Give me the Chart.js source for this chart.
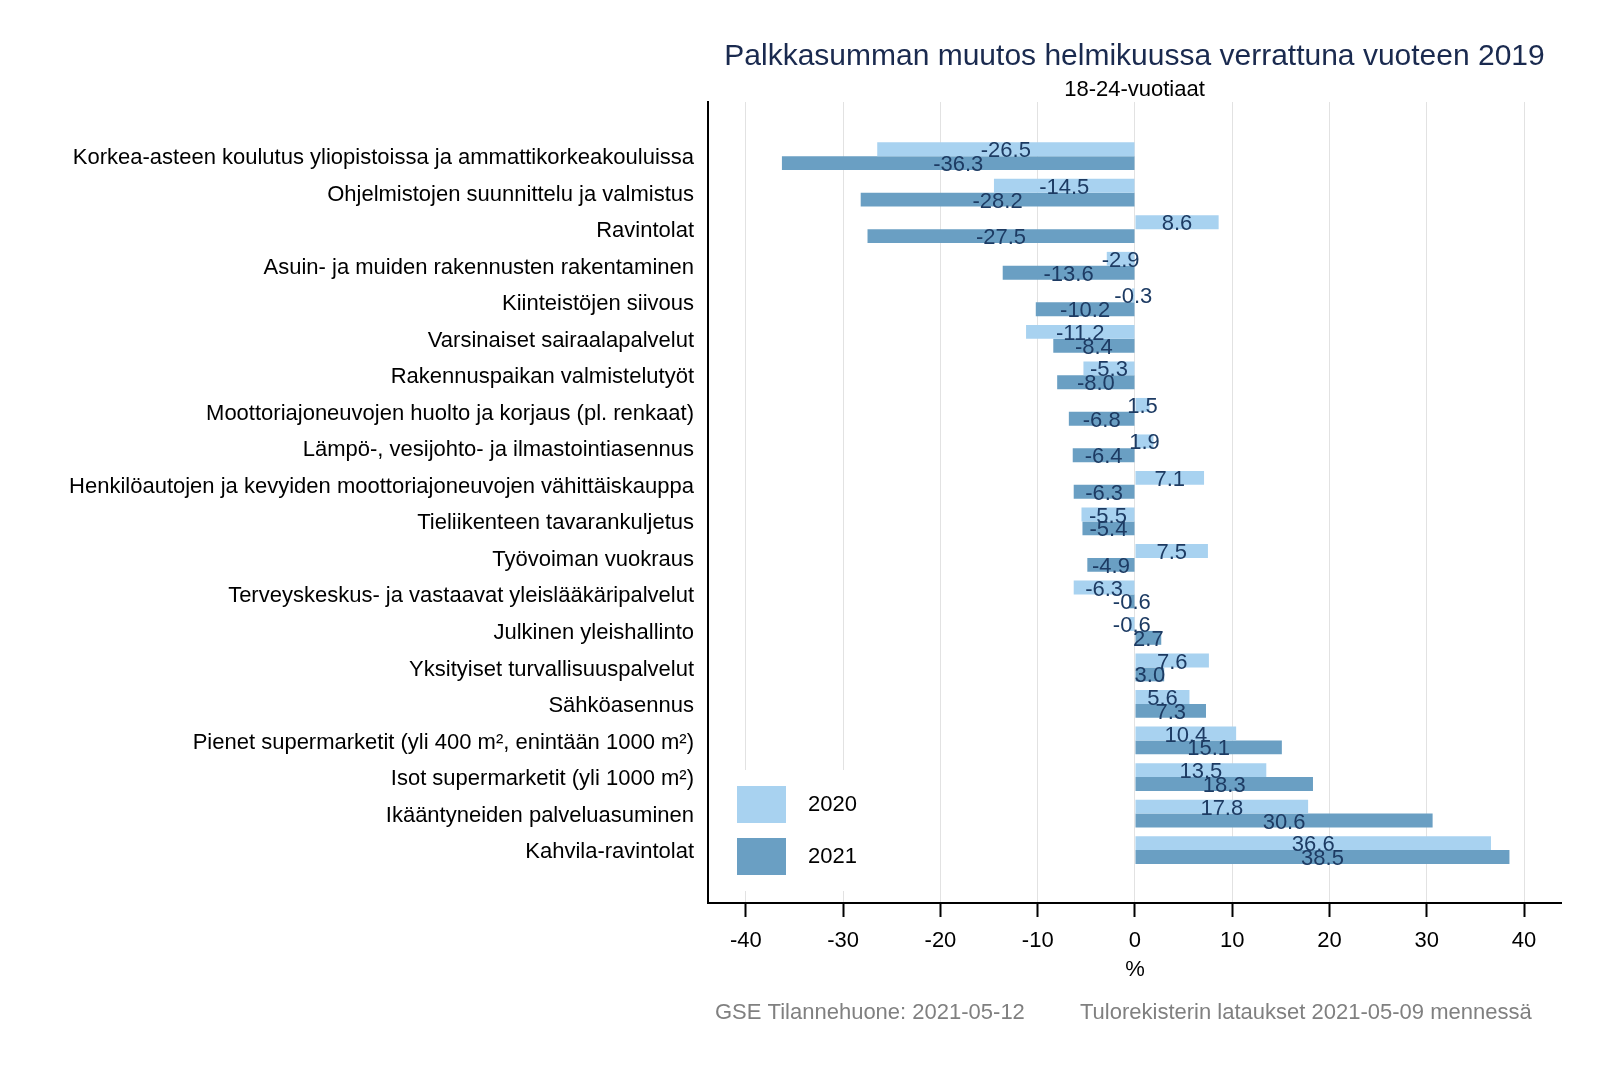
<!DOCTYPE html>
<html lang="fi">
<head>
    <meta charset="UTF-8">
    <title>Palkkasumman muutos</title>
    <script src="https://cdn.jsdelivr.net/npm/chart.js"></script>
    <style>
        body { margin: 0; background: #fff; }
    </style>
</head>
<body>
    <canvas id="wageChart" width="1600" height="1067"></canvas>
    <script>
        // chart data
        const categories = [
            'Korkea-asteen koulutus yliopistoissa ja ammattikorkeakouluissa',
            'Ohjelmistojen suunnittelu ja valmistus',
            'Ravintolat',
            'Asuin- ja muiden rakennusten rakentaminen',
            'Kiinteistöjen siivous',
            'Varsinaiset sairaalapalvelut',
            'Rakennuspaikan valmistelutyöt',
            'Moottoriajoneuvojen huolto ja korjaus (pl. renkaat)',
            'Lämpö-, vesijohto- ja ilmastointiasennus',
            'Henkilöautojen ja kevyiden moottoriajoneuvojen vähittäiskauppa',
            'Tieliikenteen tavarankuljetus',
            'Työvoiman vuokraus',
            'Terveyskeskus- ja vastaavat yleislääkäripalvelut',
            'Julkinen yleishallinto',
            'Yksityiset turvallisuuspalvelut',
            'Sähköasennus',
            'Pienet supermarketit (yli 400 m², enintään 1000 m²)',
            'Isot supermarketit (yli 1000 m²)',
            'Ikääntyneiden palveluasuminen',
            'Kahvila-ravintolat'
        ];
        const values2020 = [-26.5, -14.5, 8.6, -2.9, -0.3, -11.2, -5.3, 1.5, 1.9, 7.1, -5.5, 7.5, -6.3, -0.6, 7.6, 5.6, 10.4, 13.5, 17.8, 36.6];
        const values2021 = [-36.3, -28.2, -27.5, -13.6, -10.2, -8.4, -8.0, -6.8, -6.4, -6.3, -5.4, -4.9, -0.6, 2.7, 3.0, 7.3, 15.1, 18.3, 30.6, 38.5];
        const seriesLabels = ['2020', '2021'];
        const xTicks = [-40, -30, -20, -10, 0, 10, 20, 30, 40];

        const titleText = 'Palkkasumman muutos helmikuussa verrattuna vuoteen 2019';
        const subtitleText = '18-24-vuotiaat';
        const axisLabel = '%';
        const footLeft = 'GSE Tilannehuone: 2021-05-12';
        const footRight = 'Tulorekisterin lataukset 2021-05-09 mennessä';

        const FONT = '"Liberation Sans", Arial, sans-serif';
        const colors = ['#a8d2f0', '#6a9fc3'];

        // value labels in the middle of every bar
        const barLabels = {
            id: 'barLabels',
            afterDatasetsDraw(chart) {
                const ctx = chart.ctx;
                ctx.save();
                ctx.font = '22px ' + FONT;
                ctx.fillStyle = '#1d3b63';
                ctx.textAlign = 'center';
                ctx.textBaseline = 'middle';
                chart.data.datasets.forEach((ds, i) => {
                    chart.getDatasetMeta(i).data.forEach((bar, j) => {
                        const v = ds.data[j].x;
                        ctx.fillText(v.toFixed(1), (bar.x + bar.base) / 2, bar.y + 2);
                    });
                });
                ctx.restore();
            }
        };

        // legend inside the plot + titles and footer
        const extras = {
            id: 'extras',
            afterDatasetsDraw(chart) {
                const ctx = chart.ctx;
                const a = chart.chartArea;
                ctx.save();
                ctx.fillStyle = '#fff';
                ctx.fillRect(a.left + 3, a.bottom - 133, 188, 121);
                ctx.font = '22px ' + FONT;
                ctx.textBaseline = 'middle';
                ctx.textAlign = 'left';
                chart.data.datasets.forEach((ds, i) => {
                    const top = a.bottom - 117 + i * 52;
                    ctx.fillStyle = ds.backgroundColor;
                    ctx.fillRect(a.left + 29, top, 49, 37);
                    ctx.fillStyle = '#000';
                    ctx.fillText(ds.label, a.left + 100, top + 19);
                });
                ctx.restore();
            },
            afterDraw(chart) {
                const ctx = chart.ctx;
                const a = chart.chartArea;
                const cx = (a.left + a.right) / 2;
                ctx.save();
                ctx.textBaseline = 'middle';
                ctx.textAlign = 'center';
                ctx.fillStyle = '#1a2a4f';
                ctx.font = '30px ' + FONT;
                ctx.fillText(titleText, cx, 57);
                ctx.fillStyle = '#000';
                ctx.font = '22px ' + FONT;
                ctx.fillText(subtitleText, cx, 90);
                ctx.fillText(axisLabel, chart.scales.x.getPixelForValue(0), 970);
                ctx.fillStyle = '#808080';
                ctx.textAlign = 'left';
                ctx.fillText(footLeft, 715, 1013);
                ctx.fillText(footRight, 1080, 1013);
                ctx.restore();
            }
        };

        const ctx = document.getElementById('wageChart').getContext('2d');
        const wageChart = new Chart(ctx, {
            type: 'bar',
            data: {
                datasets: [{
                    label: seriesLabels[0],
                    data: values2020.map((v, i) => ({ x: v, y: i })),
                    backgroundColor: colors[0],
                    categoryPercentage: 0.76,
                    barPercentage: 1.0
                }, {
                    label: seriesLabels[1],
                    data: values2021.map((v, i) => ({ x: v, y: i })),
                    backgroundColor: colors[1],
                    categoryPercentage: 0.76,
                    barPercentage: 1.0
                }]
            },
            options: {
                indexAxis: 'y',
                responsive: false,
                animation: false,
                layout: { padding: { top: 102, right: 39, left: 0, bottom: 0 } },
                plugins: {
                    legend: { display: false },
                    tooltip: { enabled: false }
                },
                scales: {
                    y: {
                        type: 'linear',
                        reverse: true,
                        offset: false,
                        min: -1.484,
                        max: 20.45,
                        afterBuildTicks(scale) {
                            scale.ticks = categories.map((c, i) => ({ value: i }));
                        },
                        afterFit(scale) { scale.width = 708; },
                        grid: { display: false, drawTicks: false },
                        border: { display: true, color: '#000', width: 2 },
                        ticks: {
                            padding: 14,
                            labelOffset: 2,
                            color: '#000',
                            font: { family: FONT, size: 22 },
                            callback: (v) => categories[v]
                        }
                    },
                    x: {
                        type: 'linear',
                        min: -43.9,
                        max: 43.8,
                        afterBuildTicks(scale) {
                            scale.ticks = xTicks.map(v => ({ value: v }));
                        },
                        afterFit(scale) { scale.height = 164; },
                        grid: {
                            color: '#e2e2e2',
                            lineWidth: 1,
                            tickColor: '#000',
                            tickWidth: 2,
                            tickLength: 14
                        },
                        border: { display: true, color: '#000', width: 2 },
                        ticks: {
                            padding: 11,
                            color: '#000',
                            maxRotation: 0,
                            font: { family: FONT, size: 22 }
                        }
                    }
                }
            },
            plugins: [barLabels, extras]
        });
    </script>
</body>
</html>
